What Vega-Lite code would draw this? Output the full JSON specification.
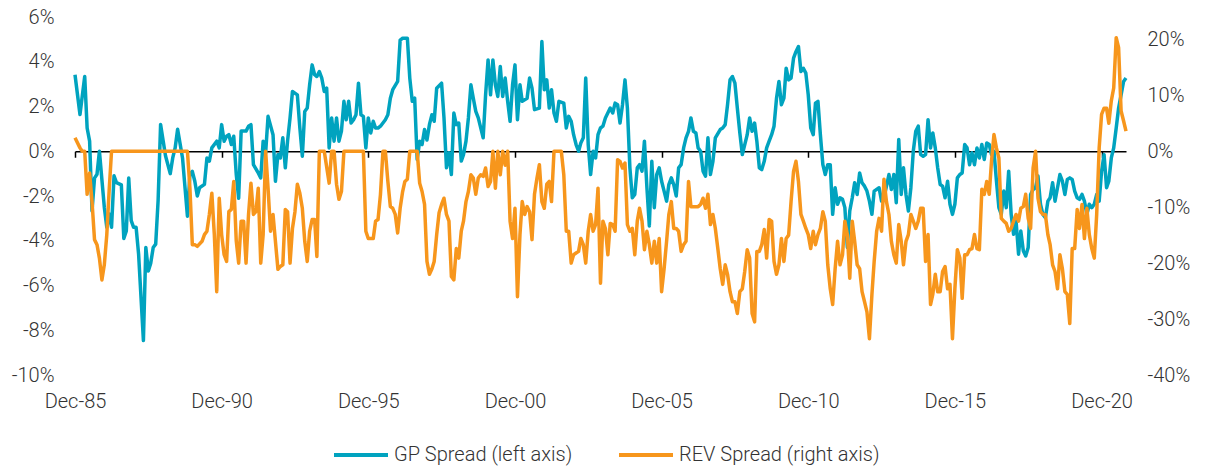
{
  "$schema": "https://vega.github.io/schema/vega-lite/v6.json",
  "width": 1051,
  "height": 358,
  "autosize": {"type": "none"},
  "padding": {"left": 75, "top": 17, "right": 86, "bottom": 95},
  "background": "white",
  "config": {
    "view": {"stroke": null},
    "font": "Roboto",
    "axis": {"labelFont": "Roboto", "labelFontWeight": 300, "labelFontSize": 20, "labelColor": "#333333", "grid": false, "title": null},
    "legend": {"labelFont": "Roboto", "labelFontWeight": 300, "labelFontSize": 20, "labelColor": "#333333", "labelLimit": 400}
  },
  "datasets": {
    "gp": [
      {"date": "1985-12-01", "value": 3.42}, {"date": "1986-02-01", "value": 1.64}, {"date": "1986-04-01", "value": 3.34}, {"date": "1986-05-01", "value": 1.04}, {"date": "1986-06-01", "value": 0.45}, {"date": "1986-07-01", "value": -2.67}, {"date": "1986-08-01", "value": -1.2}, {"date": "1986-09-01", "value": -1.03}, {"date": "1986-10-01", "value": 0}, {"date": "1986-12-01", "value": -2.5},
      {"date": "1987-01-01", "value": -3.4}, {"date": "1987-02-01", "value": -2.8}, {"date": "1987-03-01", "value": -3.4}, {"date": "1987-04-01", "value": -1.1}, {"date": "1987-05-01", "value": -1.4}, {"date": "1987-07-01", "value": -1.5}, {"date": "1987-08-01", "value": -3.9}, {"date": "1987-09-01", "value": -3.56}, {"date": "1987-10-01", "value": -1.2}, {"date": "1987-11-01", "value": -3.1}, {"date": "1987-12-01", "value": -3.4},
      {"date": "1988-01-01", "value": -3.4}, {"date": "1988-02-01", "value": -4.6}, {"date": "1988-04-01", "value": -8.46}, {"date": "1988-05-01", "value": -4.3}, {"date": "1988-06-01", "value": -5.35}, {"date": "1988-07-01", "value": -5.0}, {"date": "1988-08-01", "value": -4.3}, {"date": "1988-09-01", "value": -4.15}, {"date": "1988-10-01", "value": -2.2}, {"date": "1988-11-01", "value": 1.2},
      {"date": "1989-01-01", "value": -0.2}, {"date": "1989-03-01", "value": -1.0}, {"date": "1989-04-01", "value": -0.3}, {"date": "1989-05-01", "value": 0.15}, {"date": "1989-06-01", "value": 0.98}, {"date": "1989-08-01", "value": -0.3}, {"date": "1989-09-01", "value": -1.63}, {"date": "1989-10-01", "value": -2.9}, {"date": "1989-11-01", "value": -1.03}, {"date": "1989-12-01", "value": -0.9},
      {"date": "1990-01-01", "value": -1.34}, {"date": "1990-02-01", "value": -2.0}, {"date": "1990-03-01", "value": -1.63}, {"date": "1990-05-01", "value": -1.48}, {"date": "1990-06-01", "value": -0.3}, {"date": "1990-07-01", "value": -0.44}, {"date": "1990-08-01", "value": 0.15}, {"date": "1990-10-01", "value": 0.45}, {"date": "1990-11-01", "value": 0.15}, {"date": "1990-12-01", "value": 1.19},
      {"date": "1991-01-01", "value": 0.45}, {"date": "1991-02-01", "value": 0.67}, {"date": "1991-03-01", "value": 0.74}, {"date": "1991-04-01", "value": 0.3}, {"date": "1991-05-01", "value": 0.67}, {"date": "1991-06-01", "value": -1.03}, {"date": "1991-07-01", "value": -2.1}, {"date": "1991-08-01", "value": 0.9}, {"date": "1991-10-01", "value": 0.9}, {"date": "1991-11-01", "value": 1.12}, {"date": "1991-12-01", "value": 1.19},
      {"date": "1992-01-01", "value": -0.6}, {"date": "1992-03-01", "value": -0.97}, {"date": "1992-04-01", "value": -1.19}, {"date": "1992-05-01", "value": 0.45}, {"date": "1992-06-01", "value": -0.07}, {"date": "1992-07-01", "value": 1.56}, {"date": "1992-09-01", "value": 0.74}, {"date": "1992-10-01", "value": -1.34}, {"date": "1992-11-01", "value": -0.15}, {"date": "1992-12-01", "value": -0.3},
      {"date": "1993-01-01", "value": 0.6}, {"date": "1993-02-01", "value": -0.74}, {"date": "1993-03-01", "value": 0.45}, {"date": "1993-04-01", "value": 1.49}, {"date": "1993-05-01", "value": 2.67}, {"date": "1993-07-01", "value": 2.52}, {"date": "1993-08-01", "value": 1.04}, {"date": "1993-09-01", "value": -0.22}, {"date": "1993-10-01", "value": 1.78}, {"date": "1993-11-01", "value": 1.93}, {"date": "1993-12-01", "value": 2.97},
      {"date": "1994-01-01", "value": 3.86}, {"date": "1994-02-01", "value": 3.42}, {"date": "1994-03-01", "value": 3.34}, {"date": "1994-04-01", "value": 3.56}, {"date": "1994-05-01", "value": 3.27}, {"date": "1994-06-01", "value": 2.67}, {"date": "1994-07-01", "value": 2.82}, {"date": "1994-08-01", "value": 0.15}, {"date": "1994-09-01", "value": 1.49}, {"date": "1994-10-01", "value": 0.45}, {"date": "1994-11-01", "value": 1.49}, {"date": "1994-12-01", "value": 0.45},
      {"date": "1995-01-01", "value": 0.9}, {"date": "1995-02-01", "value": 2.23}, {"date": "1995-03-01", "value": 1.41}, {"date": "1995-04-01", "value": 2.23}, {"date": "1995-05-01", "value": 1.26}, {"date": "1995-06-01", "value": 1.41}, {"date": "1995-07-01", "value": 1.63}, {"date": "1995-08-01", "value": 3.04}, {"date": "1995-09-01", "value": 1.63}, {"date": "1995-10-01", "value": 1.56}, {"date": "1995-11-01", "value": 0.15}, {"date": "1995-12-01", "value": 1.49},
      {"date": "1996-01-01", "value": 0.82}, {"date": "1996-02-01", "value": 1.34}, {"date": "1996-03-01", "value": 1.04}, {"date": "1996-04-01", "value": 1.04}, {"date": "1996-05-01", "value": 1.12}, {"date": "1996-07-01", "value": 1.41}, {"date": "1996-08-01", "value": 1.63}, {"date": "1996-09-01", "value": 2.37}, {"date": "1996-10-01", "value": 2.75}, {"date": "1996-12-01", "value": 3.12},
      {"date": "1997-01-01", "value": 4.97}, {"date": "1997-02-01", "value": 5.05}, {"date": "1997-04-01", "value": 5.05}, {"date": "1997-05-01", "value": 3.27}, {"date": "1997-06-01", "value": 2.23}, {"date": "1997-07-01", "value": 2.37}, {"date": "1997-08-01", "value": -0.37}, {"date": "1997-09-01", "value": 0.45}, {"date": "1997-10-01", "value": 0.3}, {"date": "1997-11-01", "value": 0.97}, {"date": "1997-12-01", "value": 0.5},
      {"date": "1998-01-01", "value": 1.2}, {"date": "1998-02-01", "value": 1.63}, {"date": "1998-03-01", "value": 1.34}, {"date": "1998-04-01", "value": 2.82}, {"date": "1998-06-01", "value": 3.04}, {"date": "1998-07-01", "value": 1.49}, {"date": "1998-08-01", "value": -0.74}, {"date": "1998-09-01", "value": -0.07}, {"date": "1998-10-01", "value": -1.04}, {"date": "1998-11-01", "value": 1.71}, {"date": "1998-12-01", "value": 1.19},
      {"date": "1999-01-01", "value": 1.26}, {"date": "1999-02-01", "value": -0.44}, {"date": "1999-03-01", "value": -0.15}, {"date": "1999-04-01", "value": 0.45}, {"date": "1999-05-01", "value": 1.49}, {"date": "1999-06-01", "value": 2.97}, {"date": "1999-07-01", "value": 2.37}, {"date": "1999-08-01", "value": 1.78}, {"date": "1999-09-01", "value": 1.49}, {"date": "1999-11-01", "value": 0.6}, {"date": "1999-12-01", "value": 2.52},
      {"date": "2000-01-01", "value": 4.08}, {"date": "2000-02-01", "value": 2.52}, {"date": "2000-03-01", "value": 4.08}, {"date": "2000-04-01", "value": 2.97}, {"date": "2000-05-01", "value": 2.45}, {"date": "2000-06-01", "value": 3.79}, {"date": "2000-07-01", "value": 2.45}, {"date": "2000-08-01", "value": 3.27}, {"date": "2000-09-01", "value": 2.23}, {"date": "2000-10-01", "value": 1.34}, {"date": "2000-11-01", "value": 2.97}, {"date": "2000-12-01", "value": 3.86},
      {"date": "2001-01-01", "value": 1.41}, {"date": "2001-02-01", "value": 2.97}, {"date": "2001-03-01", "value": 2.23}, {"date": "2001-05-01", "value": 2.37}, {"date": "2001-06-01", "value": 3.27}, {"date": "2001-07-01", "value": 2.82}, {"date": "2001-08-01", "value": 1.86}, {"date": "2001-10-01", "value": 1.93}, {"date": "2001-11-01", "value": 4.9}, {"date": "2001-12-01", "value": 2.75},
      {"date": "2002-01-01", "value": 3.19}, {"date": "2002-02-01", "value": 1.93}, {"date": "2002-03-01", "value": 2.75}, {"date": "2002-04-01", "value": 1.71}, {"date": "2002-05-01", "value": 1.34}, {"date": "2002-06-01", "value": 2.23}, {"date": "2002-08-01", "value": 2.15}, {"date": "2002-09-01", "value": 1.04}, {"date": "2002-10-01", "value": 1.56}, {"date": "2002-11-01", "value": 1.34}, {"date": "2002-12-01", "value": 0.74},
      {"date": "2003-01-01", "value": 0.3}, {"date": "2003-02-01", "value": 0}, {"date": "2003-03-01", "value": 0.37}, {"date": "2003-04-01", "value": 0.6}, {"date": "2003-05-01", "value": 3.27}, {"date": "2003-06-01", "value": 0.3}, {"date": "2003-07-01", "value": -1.04}, {"date": "2003-08-01", "value": 0}, {"date": "2003-09-01", "value": -0.3}, {"date": "2003-10-01", "value": 0.74}, {"date": "2003-11-01", "value": 1.04}, {"date": "2003-12-01", "value": 1.12},
      {"date": "2004-01-01", "value": 1.49}, {"date": "2004-03-01", "value": 1.93}, {"date": "2004-04-01", "value": 1.71}, {"date": "2004-05-01", "value": 2.15}, {"date": "2004-06-01", "value": 2.08}, {"date": "2004-07-01", "value": 1.26}, {"date": "2004-08-01", "value": 2.08}, {"date": "2004-09-01", "value": 3.19}, {"date": "2004-10-01", "value": 1.93}, {"date": "2004-11-01", "value": -0.74}, {"date": "2004-12-01", "value": -2.08},
      {"date": "2005-01-01", "value": -1.93}, {"date": "2005-02-01", "value": -0.74}, {"date": "2005-03-01", "value": -0.6}, {"date": "2005-04-01", "value": -0.89}, {"date": "2005-05-01", "value": 0.45}, {"date": "2005-06-01", "value": -1.63}, {"date": "2005-07-01", "value": -3.34}, {"date": "2005-08-01", "value": -0.45}, {"date": "2005-09-01", "value": -2.52}, {"date": "2005-10-01", "value": -1.04}, {"date": "2005-11-01", "value": -0.74}, {"date": "2005-12-01", "value": -1.34},
      {"date": "2006-01-01", "value": -1.78}, {"date": "2006-02-01", "value": -2.23}, {"date": "2006-03-01", "value": -1.49}, {"date": "2006-04-01", "value": -1.19}, {"date": "2006-05-01", "value": -1.49}, {"date": "2006-06-01", "value": -2.0}, {"date": "2006-07-01", "value": -0.74}, {"date": "2006-08-01", "value": -0.6}, {"date": "2006-09-01", "value": 0.15}, {"date": "2006-10-01", "value": 0.6}, {"date": "2006-11-01", "value": 0.89}, {"date": "2006-12-01", "value": 1.49},
      {"date": "2007-01-01", "value": 0.89}, {"date": "2007-02-01", "value": 0.82}, {"date": "2007-03-01", "value": 0.15}, {"date": "2007-04-01", "value": 0}, {"date": "2007-05-01", "value": -0.89}, {"date": "2007-06-01", "value": -1.11}, {"date": "2007-07-01", "value": 0.6}, {"date": "2007-08-01", "value": -1.04}, {"date": "2007-09-01", "value": -0.45}, {"date": "2007-10-01", "value": 0.6}, {"date": "2007-12-01", "value": 0.97},
      {"date": "2008-01-01", "value": 1.04}, {"date": "2008-02-01", "value": 1.19}, {"date": "2008-03-01", "value": 2.08}, {"date": "2008-04-01", "value": 3.19}, {"date": "2008-05-01", "value": 3.34}, {"date": "2008-06-01", "value": 3.04}, {"date": "2008-07-01", "value": 1.93}, {"date": "2008-08-01", "value": 0.82}, {"date": "2008-09-01", "value": -0.15}, {"date": "2008-11-01", "value": 0.74}, {"date": "2008-12-01", "value": 1.49},
      {"date": "2009-01-01", "value": 0.89}, {"date": "2009-02-01", "value": 1.26}, {"date": "2009-03-01", "value": 0.45}, {"date": "2009-04-01", "value": -0.74}, {"date": "2009-05-01", "value": -0.82}, {"date": "2009-06-01", "value": -0.45}, {"date": "2009-07-01", "value": 0.15}, {"date": "2009-08-01", "value": 0.45}, {"date": "2009-09-01", "value": 0.74}, {"date": "2009-10-01", "value": 1.12}, {"date": "2009-11-01", "value": 2.37}, {"date": "2009-12-01", "value": 3.12},
      {"date": "2010-01-01", "value": 2.08}, {"date": "2010-02-01", "value": 2.37}, {"date": "2010-03-01", "value": 3.71}, {"date": "2010-04-01", "value": 3.19}, {"date": "2010-05-01", "value": 3.27}, {"date": "2010-06-01", "value": 4.16}, {"date": "2010-07-01", "value": 4.45}, {"date": "2010-08-01", "value": 4.68}, {"date": "2010-09-01", "value": 3.56}, {"date": "2010-10-01", "value": 3.71}, {"date": "2010-11-01", "value": 3.49}, {"date": "2010-12-01", "value": 2.52},
      {"date": "2011-01-01", "value": 1.04}, {"date": "2011-02-01", "value": 0.74}, {"date": "2011-03-01", "value": 2.15}, {"date": "2011-04-01", "value": 2.23}, {"date": "2011-05-01", "value": 0.74}, {"date": "2011-06-01", "value": -0.6}, {"date": "2011-07-01", "value": -1.04}, {"date": "2011-08-01", "value": -0.6}, {"date": "2011-09-01", "value": -0.6}, {"date": "2011-10-01", "value": -2.82}, {"date": "2011-11-01", "value": -1.63}, {"date": "2011-12-01", "value": -2.37},
      {"date": "2012-01-01", "value": -2.08}, {"date": "2012-02-01", "value": -2.15}, {"date": "2012-03-01", "value": -2.52}, {"date": "2012-04-01", "value": -4.3}, {"date": "2012-05-01", "value": -2.67}, {"date": "2012-06-01", "value": -2.08}, {"date": "2012-07-01", "value": -1.41}, {"date": "2012-08-01", "value": -1.93}, {"date": "2012-09-01", "value": -0.97}, {"date": "2012-10-01", "value": -1.41}, {"date": "2012-11-01", "value": -1.56}, {"date": "2012-12-01", "value": -1.78},
      {"date": "2013-01-01", "value": -2.23}, {"date": "2013-02-01", "value": -2.82}, {"date": "2013-03-01", "value": -1.78}, {"date": "2013-05-01", "value": -1.63}, {"date": "2013-06-01", "value": -2.23}, {"date": "2013-07-01", "value": -2.08}, {"date": "2013-09-01", "value": -1.04}, {"date": "2013-10-01", "value": -1.71}, {"date": "2013-11-01", "value": -1.04}, {"date": "2013-12-01", "value": -2.3},
      {"date": "2014-01-01", "value": 0.52}, {"date": "2014-02-01", "value": -1.93}, {"date": "2014-03-01", "value": -0.74}, {"date": "2014-04-01", "value": -1.93}, {"date": "2014-05-01", "value": -2.67}, {"date": "2014-06-01", "value": -1.63}, {"date": "2014-07-01", "value": 0}, {"date": "2014-08-01", "value": 0.89}, {"date": "2014-09-01", "value": 1.12}, {"date": "2014-10-01", "value": -0.15}, {"date": "2014-11-01", "value": -0.22}, {"date": "2014-12-01", "value": -0.15},
      {"date": "2015-01-01", "value": 1.41}, {"date": "2015-02-01", "value": 0.15}, {"date": "2015-03-01", "value": 0.82}, {"date": "2015-04-01", "value": 0.15}, {"date": "2015-05-01", "value": -0.74}, {"date": "2015-06-01", "value": -1.49}, {"date": "2015-07-01", "value": -1.56}, {"date": "2015-08-01", "value": -2.08}, {"date": "2015-09-01", "value": -1.34}, {"date": "2015-10-01", "value": -2.37}, {"date": "2015-11-01", "value": -2.82}, {"date": "2015-12-01", "value": -2.37},
      {"date": "2016-01-01", "value": -1.19}, {"date": "2016-02-01", "value": -1.04}, {"date": "2016-03-01", "value": -0.97}, {"date": "2016-04-01", "value": 0.3}, {"date": "2016-05-01", "value": 0.15}, {"date": "2016-06-01", "value": -0.6}, {"date": "2016-07-01", "value": -0.07}, {"date": "2016-08-01", "value": -0.6}, {"date": "2016-09-01", "value": 0.15}, {"date": "2016-10-01", "value": -0.3}, {"date": "2016-11-01", "value": 0.3}, {"date": "2016-12-01", "value": -0.37},
      {"date": "2017-01-01", "value": 0.37}, {"date": "2017-02-01", "value": 0.3}, {"date": "2017-03-01", "value": -0.15}, {"date": "2017-04-01", "value": 0}, {"date": "2017-05-01", "value": -1.3}, {"date": "2017-06-01", "value": -2.52}, {"date": "2017-07-01", "value": -2.82}, {"date": "2017-08-01", "value": -1.78}, {"date": "2017-09-01", "value": -2.52}, {"date": "2017-10-01", "value": -0.89}, {"date": "2017-11-01", "value": -2.82}, {"date": "2017-12-01", "value": -3.71},
      {"date": "2018-01-01", "value": -3.12}, {"date": "2018-02-01", "value": -4.6}, {"date": "2018-03-01", "value": -3.56}, {"date": "2018-04-01", "value": -4.45}, {"date": "2018-05-01", "value": -4.68}, {"date": "2018-06-01", "value": -4.3}, {"date": "2018-07-01", "value": -1.93}, {"date": "2018-08-01", "value": -1.71}, {"date": "2018-09-01", "value": -1.63}, {"date": "2018-10-01", "value": -1.11}, {"date": "2018-11-01", "value": -2.37}, {"date": "2018-12-01", "value": -2.82},
      {"date": "2019-01-01", "value": -2.97}, {"date": "2019-02-01", "value": -2.23}, {"date": "2019-03-01", "value": -2.08}, {"date": "2019-04-01", "value": -1.41}, {"date": "2019-05-01", "value": -2.23}, {"date": "2019-06-01", "value": -1.63}, {"date": "2019-07-01", "value": -1.04}, {"date": "2019-08-01", "value": -1.34}, {"date": "2019-09-01", "value": -1.93}, {"date": "2019-10-01", "value": -1.26}, {"date": "2019-11-01", "value": -1.19}, {"date": "2019-12-01", "value": -1.26},
      {"date": "2020-01-01", "value": -1.78}, {"date": "2020-02-01", "value": -2.08}, {"date": "2020-03-01", "value": -2.15}, {"date": "2020-04-01", "value": -1.93}, {"date": "2020-05-01", "value": -2.23}, {"date": "2020-06-01", "value": -2.82}, {"date": "2020-07-01", "value": -2.37}, {"date": "2020-08-01", "value": -2.52}, {"date": "2020-09-01", "value": -2.37}, {"date": "2020-10-01", "value": -1.93}, {"date": "2020-11-01", "value": -2.23}, {"date": "2020-12-01", "value": -0.89},
      {"date": "2021-01-01", "value": -0.15}, {"date": "2021-02-01", "value": -1.63}, {"date": "2021-03-01", "value": -1.34}, {"date": "2021-04-01", "value": -0.3}, {"date": "2021-05-01", "value": 0.15}, {"date": "2021-06-01", "value": 1.04}, {"date": "2021-07-01", "value": 1.93}, {"date": "2021-08-01", "value": 2.52}, {"date": "2021-09-01", "value": 3.12}, {"date": "2021-10-01", "value": 3.27}
    ],
    "rev": [
      {"date": "1985-12-01", "value": 2.4}, {"date": "1986-02-01", "value": 0.6}, {"date": "1986-03-01", "value": 0}, {"date": "1986-04-01", "value": 0}, {"date": "1986-05-01", "value": -7.7}, {"date": "1986-06-01", "value": -3.9}, {"date": "1986-07-01", "value": -9}, {"date": "1986-08-01", "value": -15.8}, {"date": "1986-09-01", "value": -16.7}, {"date": "1986-10-01", "value": -19.1}, {"date": "1986-11-01", "value": -23}, {"date": "1986-12-01", "value": -20.3},
      {"date": "1987-01-01", "value": -14.9}, {"date": "1987-02-01", "value": -6.6}, {"date": "1987-03-01", "value": 0}, {"date": "1989-10-01", "value": 0}, {"date": "1989-11-01", "value": -6.6}, {"date": "1989-12-01", "value": -16.7},
      {"date": "1990-01-01", "value": -16.7}, {"date": "1990-02-01", "value": -17}, {"date": "1990-04-01", "value": -16.1}, {"date": "1990-05-01", "value": -14.9}, {"date": "1990-06-01", "value": -14.3}, {"date": "1990-07-01", "value": -11.3}, {"date": "1990-08-01", "value": -7.5}, {"date": "1990-09-01", "value": -14.9}, {"date": "1990-10-01", "value": -25.1}, {"date": "1990-11-01", "value": -8.4}, {"date": "1990-12-01", "value": -14.9},
      {"date": "1991-01-01", "value": -18.5}, {"date": "1991-02-01", "value": -19.7}, {"date": "1991-03-01", "value": -10.8}, {"date": "1991-04-01", "value": -10.4}, {"date": "1991-05-01", "value": -5.4}, {"date": "1991-06-01", "value": -16}, {"date": "1991-07-01", "value": -20}, {"date": "1991-08-01", "value": -12.5}, {"date": "1991-09-01", "value": -12.5}, {"date": "1991-10-01", "value": -20}, {"date": "1991-11-01", "value": -11.3}, {"date": "1991-12-01", "value": -5.7},
      {"date": "1992-01-01", "value": -11.3}, {"date": "1992-02-01", "value": -10.8}, {"date": "1992-03-01", "value": -6.6}, {"date": "1992-04-01", "value": -20}, {"date": "1992-05-01", "value": -14.9}, {"date": "1992-06-01", "value": 0}, {"date": "1992-07-01", "value": -6.6}, {"date": "1992-08-01", "value": -14.3}, {"date": "1992-09-01", "value": -11.3}, {"date": "1992-11-01", "value": -21.1}, {"date": "1992-12-01", "value": -20.6},
      {"date": "1993-01-01", "value": -20.3}, {"date": "1993-02-01", "value": -10.4}, {"date": "1993-03-01", "value": -10.8}, {"date": "1993-04-01", "value": -20}, {"date": "1993-05-01", "value": -13.8}, {"date": "1993-06-01", "value": -10.8}, {"date": "1993-07-01", "value": -5.9}, {"date": "1993-08-01", "value": -7.5}, {"date": "1993-09-01", "value": -10.2}, {"date": "1993-10-01", "value": -16.1}, {"date": "1993-11-01", "value": -19.7}, {"date": "1993-12-01", "value": -14.3},
      {"date": "1994-01-01", "value": -12.2}, {"date": "1994-02-01", "value": -12.2}, {"date": "1994-03-01", "value": -18.8}, {"date": "1994-04-01", "value": 0}, {"date": "1994-06-01", "value": 0}, {"date": "1994-08-01", "value": -5.7}, {"date": "1994-09-01", "value": 0}, {"date": "1994-10-01", "value": 0}, {"date": "1994-11-01", "value": -5.9}, {"date": "1994-12-01", "value": -8.6},
      {"date": "1995-01-01", "value": -7.2}, {"date": "1995-02-01", "value": 0}, {"date": "1995-10-01", "value": 0}, {"date": "1995-11-01", "value": -14.3}, {"date": "1995-12-01", "value": -15.6},
      {"date": "1996-01-01", "value": -15.6}, {"date": "1996-02-01", "value": -15.6}, {"date": "1996-03-01", "value": -12.5}, {"date": "1996-04-01", "value": -12.2}, {"date": "1996-05-01", "value": -7.7}, {"date": "1996-06-01", "value": 0}, {"date": "1996-07-01", "value": 0}, {"date": "1996-08-01", "value": -5.4}, {"date": "1996-09-01", "value": -9.9}, {"date": "1996-10-01", "value": -10.2}, {"date": "1996-11-01", "value": -11.3}, {"date": "1996-12-01", "value": -14.6},
      {"date": "1997-01-01", "value": -10.2}, {"date": "1997-02-01", "value": -7.2}, {"date": "1997-03-01", "value": -5.4}, {"date": "1997-04-01", "value": -5}, {"date": "1997-05-01", "value": 0}, {"date": "1997-08-01", "value": 0}, {"date": "1997-09-01", "value": -5.7}, {"date": "1997-10-01", "value": -7.2}, {"date": "1997-11-01", "value": -9.5}, {"date": "1997-12-01", "value": -19.7},
      {"date": "1998-01-01", "value": -22}, {"date": "1998-02-01", "value": -21}, {"date": "1998-03-01", "value": -19.7}, {"date": "1998-04-01", "value": -14.9}, {"date": "1998-05-01", "value": -11}, {"date": "1998-06-01", "value": -9.5}, {"date": "1998-07-01", "value": -8.4}, {"date": "1998-08-01", "value": -11.3}, {"date": "1998-09-01", "value": -12.5}, {"date": "1998-10-01", "value": -22.4}, {"date": "1998-11-01", "value": -23}, {"date": "1998-12-01", "value": -17.4},
      {"date": "1999-01-01", "value": -19.1}, {"date": "1999-02-01", "value": -14.3}, {"date": "1999-03-01", "value": -12.5}, {"date": "1999-04-01", "value": -9}, {"date": "1999-05-01", "value": -7.2}, {"date": "1999-06-01", "value": -4.2}, {"date": "1999-07-01", "value": -4.8}, {"date": "1999-08-01", "value": -7.7}, {"date": "1999-09-01", "value": -4.8}, {"date": "1999-10-01", "value": -4.2}, {"date": "1999-11-01", "value": -4.5}, {"date": "1999-12-01", "value": -3},
      {"date": "2000-01-01", "value": -6.3}, {"date": "2000-02-01", "value": -5.4}, {"date": "2000-03-01", "value": 0}, {"date": "2000-04-01", "value": -6.6}, {"date": "2000-05-01", "value": 0}, {"date": "2000-06-01", "value": -4.2}, {"date": "2000-07-01", "value": 0}, {"date": "2000-08-01", "value": -2.5}, {"date": "2000-09-01", "value": 0}, {"date": "2000-10-01", "value": -12.5}, {"date": "2000-11-01", "value": -15.6}, {"date": "2000-12-01", "value": -10.2},
      {"date": "2001-01-01", "value": -26}, {"date": "2001-02-01", "value": -14.9}, {"date": "2001-03-01", "value": -9}, {"date": "2001-04-01", "value": -11.3}, {"date": "2001-05-01", "value": -9.9}, {"date": "2001-06-01", "value": -10.8}, {"date": "2001-07-01", "value": -15.8}, {"date": "2001-08-01", "value": -7.7}, {"date": "2001-09-01", "value": -4.8}, {"date": "2001-10-01", "value": -2.4}, {"date": "2001-11-01", "value": -9}, {"date": "2001-12-01", "value": -10.2},
      {"date": "2002-01-01", "value": -5.9}, {"date": "2002-02-01", "value": -5.4}, {"date": "2002-03-01", "value": -9}, {"date": "2002-04-01", "value": 0}, {"date": "2002-07-01", "value": 0}, {"date": "2002-08-01", "value": -4.2}, {"date": "2002-09-01", "value": -14.3}, {"date": "2002-10-01", "value": -14.3}, {"date": "2002-11-01", "value": -20}, {"date": "2002-12-01", "value": -18.5},
      {"date": "2003-01-01", "value": -18.2}, {"date": "2003-02-01", "value": -17.9}, {"date": "2003-03-01", "value": -15.6}, {"date": "2003-04-01", "value": -16.7}, {"date": "2003-05-01", "value": -20}, {"date": "2003-06-01", "value": -14.3}, {"date": "2003-07-01", "value": -11.3}, {"date": "2003-08-01", "value": -14.3}, {"date": "2003-09-01", "value": -13.1}, {"date": "2003-10-01", "value": -6.6}, {"date": "2003-11-01", "value": -23.6}, {"date": "2003-12-01", "value": -12.5},
      {"date": "2004-01-01", "value": -13.8}, {"date": "2004-02-01", "value": -18.5}, {"date": "2004-03-01", "value": -12.9}, {"date": "2004-04-01", "value": -13.1}, {"date": "2004-05-01", "value": -14.3}, {"date": "2004-06-01", "value": -1.5}, {"date": "2004-07-01", "value": -1.8}, {"date": "2004-08-01", "value": -3}, {"date": "2004-09-01", "value": -2.1}, {"date": "2004-10-01", "value": -13.1}, {"date": "2004-11-01", "value": -14.3}, {"date": "2004-12-01", "value": -13.8},
      {"date": "2005-01-01", "value": -18.5}, {"date": "2005-02-01", "value": -12.5}, {"date": "2005-03-01", "value": -10.2}, {"date": "2005-04-01", "value": -12.5}, {"date": "2005-05-01", "value": -17.6}, {"date": "2005-06-01", "value": -14.3}, {"date": "2005-07-01", "value": -16.7}, {"date": "2005-08-01", "value": -20}, {"date": "2005-09-01", "value": -16.1}, {"date": "2005-10-01", "value": -20}, {"date": "2005-11-01", "value": -15.6}, {"date": "2005-12-01", "value": -25.1},
      {"date": "2006-01-01", "value": -21}, {"date": "2006-02-01", "value": -16.1}, {"date": "2006-03-01", "value": -11.3}, {"date": "2006-04-01", "value": -9}, {"date": "2006-05-01", "value": -13.8}, {"date": "2006-06-01", "value": -13.8}, {"date": "2006-07-01", "value": -14.3}, {"date": "2006-08-01", "value": -17.9}, {"date": "2006-09-01", "value": -16.7}, {"date": "2006-10-01", "value": -16.1}, {"date": "2006-11-01", "value": -5.4}, {"date": "2006-12-01", "value": -9.9},
      {"date": "2007-01-01", "value": -9.9}, {"date": "2007-03-01", "value": -9.9}, {"date": "2007-04-01", "value": -9.5}, {"date": "2007-05-01", "value": -8.4}, {"date": "2007-06-01", "value": -10.2}, {"date": "2007-07-01", "value": -7.7}, {"date": "2007-08-01", "value": -13.1}, {"date": "2007-09-01", "value": -11.3}, {"date": "2007-10-01", "value": -13.8}, {"date": "2007-11-01", "value": -17.4}, {"date": "2007-12-01", "value": -21},
      {"date": "2008-01-01", "value": -23.8}, {"date": "2008-02-01", "value": -20.3}, {"date": "2008-03-01", "value": -22}, {"date": "2008-04-01", "value": -25.1}, {"date": "2008-05-01", "value": -26.9}, {"date": "2008-06-01", "value": -26.9}, {"date": "2008-07-01", "value": -29}, {"date": "2008-08-01", "value": -25.1}, {"date": "2008-09-01", "value": -24.6}, {"date": "2008-10-01", "value": -21.5}, {"date": "2008-11-01", "value": -17.6}, {"date": "2008-12-01", "value": -19.1},
      {"date": "2009-01-01", "value": -29}, {"date": "2009-02-01", "value": -30.5}, {"date": "2009-03-01", "value": -17.9}, {"date": "2009-04-01", "value": -17.9}, {"date": "2009-05-01", "value": -16.7}, {"date": "2009-06-01", "value": -14}, {"date": "2009-07-01", "value": -19.1}, {"date": "2009-08-01", "value": -12.2}, {"date": "2009-09-01", "value": -12.5}, {"date": "2009-10-01", "value": -19.7}, {"date": "2009-11-01", "value": -22}, {"date": "2009-12-01", "value": -20.3},
      {"date": "2010-01-01", "value": -15.6}, {"date": "2010-02-01", "value": -19.7}, {"date": "2010-03-01", "value": -15.6}, {"date": "2010-04-01", "value": -15}, {"date": "2010-05-01", "value": -9}, {"date": "2010-06-01", "value": -3.6}, {"date": "2010-07-01", "value": -1.8}, {"date": "2010-08-01", "value": -5.4}, {"date": "2010-09-01", "value": -11.3}, {"date": "2010-10-01", "value": -12.5}, {"date": "2010-11-01", "value": -13.8}, {"date": "2010-12-01", "value": -14.9},
      {"date": "2011-01-01", "value": -17.4}, {"date": "2011-02-01", "value": -14.3}, {"date": "2011-03-01", "value": -16.7}, {"date": "2011-04-01", "value": -14.9}, {"date": "2011-05-01", "value": -13.8}, {"date": "2011-06-01", "value": -10.8}, {"date": "2011-07-01", "value": -12.5}, {"date": "2011-08-01", "value": -20.3}, {"date": "2011-09-01", "value": -24.6}, {"date": "2011-10-01", "value": -27.4}, {"date": "2011-11-01", "value": -21}, {"date": "2011-12-01", "value": -16.1},
      {"date": "2012-01-01", "value": -20.3}, {"date": "2012-02-01", "value": -18.5}, {"date": "2012-03-01", "value": -12.5}, {"date": "2012-04-01", "value": -14.9}, {"date": "2012-05-01", "value": -22.7}, {"date": "2012-06-01", "value": -12.5}, {"date": "2012-07-01", "value": -16.1}, {"date": "2012-08-01", "value": -20.3}, {"date": "2012-09-01", "value": -21}, {"date": "2012-10-01", "value": -25.1}, {"date": "2012-11-01", "value": -26.9}, {"date": "2012-12-01", "value": -28.7},
      {"date": "2013-01-01", "value": -33.5}, {"date": "2013-02-01", "value": -25.6}, {"date": "2013-03-01", "value": -19.7}, {"date": "2013-04-01", "value": -14.3}, {"date": "2013-05-01", "value": -12}, {"date": "2013-06-01", "value": -14.3}, {"date": "2013-07-01", "value": -5}, {"date": "2013-08-01", "value": -9}, {"date": "2013-09-01", "value": -11.3}, {"date": "2013-10-01", "value": -16.1}, {"date": "2013-11-01", "value": -18.5}, {"date": "2013-12-01", "value": -20},
      {"date": "2014-01-01", "value": -13.1}, {"date": "2014-02-01", "value": -16.1}, {"date": "2014-03-01", "value": -20.3}, {"date": "2014-04-01", "value": -16.1}, {"date": "2014-05-01", "value": -14.9}, {"date": "2014-06-01", "value": -11.3}, {"date": "2014-07-01", "value": -12.5}, {"date": "2014-08-01", "value": -13.8}, {"date": "2014-09-01", "value": -12.5}, {"date": "2014-10-01", "value": -10.2}, {"date": "2014-11-01", "value": -10.2}, {"date": "2014-12-01", "value": -19.7},
      {"date": "2015-01-01", "value": -14.9}, {"date": "2015-02-01", "value": -27.4}, {"date": "2015-03-01", "value": -25.6}, {"date": "2015-04-01", "value": -22}, {"date": "2015-05-01", "value": -25.1}, {"date": "2015-06-01", "value": -25.1}, {"date": "2015-07-01", "value": -21.5}, {"date": "2015-08-01", "value": -20.6}, {"date": "2015-09-01", "value": -24.6}, {"date": "2015-10-01", "value": -23.8}, {"date": "2015-11-01", "value": -33.5}, {"date": "2015-12-01", "value": -24.6},
      {"date": "2016-01-01", "value": -17.6}, {"date": "2016-02-01", "value": -19.1}, {"date": "2016-03-01", "value": -26.3}, {"date": "2016-04-01", "value": -18.5}, {"date": "2016-05-01", "value": -18.5}, {"date": "2016-06-01", "value": -17.6}, {"date": "2016-07-01", "value": -17.4}, {"date": "2016-08-01", "value": -14.9}, {"date": "2016-09-01", "value": -17.4}, {"date": "2016-10-01", "value": -17.6}, {"date": "2016-11-01", "value": -6.8}, {"date": "2016-12-01", "value": -7.7},
      {"date": "2017-01-01", "value": -5.4}, {"date": "2017-02-01", "value": -7.7}, {"date": "2017-03-01", "value": -1.8}, {"date": "2017-04-01", "value": 3}, {"date": "2017-05-01", "value": 0.6}, {"date": "2017-06-01", "value": -1.2}, {"date": "2017-07-01", "value": -12}, {"date": "2017-08-01", "value": -12.5}, {"date": "2017-09-01", "value": -12.9}, {"date": "2017-10-01", "value": -14.3}, {"date": "2017-11-01", "value": -13.8}, {"date": "2017-12-01", "value": -12.5},
      {"date": "2018-01-01", "value": -11.3}, {"date": "2018-02-01", "value": -12.5}, {"date": "2018-03-01", "value": -10.2}, {"date": "2018-04-01", "value": -9.9}, {"date": "2018-05-01", "value": -7.7}, {"date": "2018-06-01", "value": -12}, {"date": "2018-07-01", "value": -13.8}, {"date": "2018-08-01", "value": -3}, {"date": "2018-09-01", "value": 0}, {"date": "2018-10-01", "value": -8.4}, {"date": "2018-11-01", "value": -10.8}, {"date": "2018-12-01", "value": -11.3},
      {"date": "2019-01-01", "value": -11.3}, {"date": "2019-02-01", "value": -14.9}, {"date": "2019-03-01", "value": -16.7}, {"date": "2019-04-01", "value": -20.3}, {"date": "2019-05-01", "value": -21.5}, {"date": "2019-06-01", "value": -24.6}, {"date": "2019-07-01", "value": -18.5}, {"date": "2019-08-01", "value": -21}, {"date": "2019-09-01", "value": -25.1}, {"date": "2019-10-01", "value": -25.6}, {"date": "2019-11-01", "value": -30.8}, {"date": "2019-12-01", "value": -17.4},
      {"date": "2020-01-01", "value": -17.4}, {"date": "2020-02-01", "value": -10.4}, {"date": "2020-03-01", "value": -13.8}, {"date": "2020-04-01", "value": -9.5}, {"date": "2020-05-01", "value": -15.6}, {"date": "2020-06-01", "value": -10.2}, {"date": "2020-07-01", "value": -14.9}, {"date": "2020-08-01", "value": -17.4}, {"date": "2020-09-01", "value": -19.1}, {"date": "2020-10-01", "value": -11.3}, {"date": "2020-11-01", "value": 0.6}, {"date": "2020-12-01", "value": 6.6},
      {"date": "2021-01-01", "value": 7.7}, {"date": "2021-02-01", "value": 7.7}, {"date": "2021-03-01", "value": 5}, {"date": "2021-04-01", "value": 9}, {"date": "2021-05-01", "value": 11.3}, {"date": "2021-06-01", "value": 20.3}, {"date": "2021-07-01", "value": 18.5}, {"date": "2021-08-01", "value": 7.2}, {"date": "2021-09-01", "value": 5.4}, {"date": "2021-10-01", "value": 3.6}
    ]
  },
  "layer": [
    {
      "data": {"name": "gp"},
      "mark": {"type": "line", "strokeWidth": 3.5, "strokeJoin": "round"},
      "encoding": {
        "x": {
          "field": "date", "type": "temporal",
          "scale": {"type": "utc", "domain": [{"year": 1985, "month": 12, "date": 1, "utc": true}, {"year": 2021, "month": 10, "date": 1, "utc": true}]},
          "axis": {
            "orient": "bottom", "offset": -223.75, "title": null, "labels": false,
            "domain": true, "domainColor": "#000000", "domainWidth": 1.5,
            "ticks": true, "tickColor": "#000000", "tickWidth": 1.5, "tickSize": 6,
            "values": [
              {"year": 1985, "month": 12, "date": 1, "utc": true}, {"year": 1990, "month": 12, "date": 1, "utc": true},
              {"year": 1995, "month": 12, "date": 1, "utc": true}, {"year": 2000, "month": 12, "date": 1, "utc": true},
              {"year": 2005, "month": 12, "date": 1, "utc": true}, {"year": 2010, "month": 12, "date": 1, "utc": true},
              {"year": 2015, "month": 12, "date": 1, "utc": true}, {"year": 2020, "month": 12, "date": 1, "utc": true}
            ]
          }
        },
        "y": {
          "field": "value", "type": "quantitative",
          "scale": {"domain": [-10, 6], "nice": false, "zero": false},
          "axis": {"orient": "left", "values": [-10, -8, -6, -4, -2, 0, 2, 4, 6], "labelExpr": "datum.value + '%'", "domain": false, "ticks": false, "labelPadding": 21, "title": null}
        },
        "color": {
          "datum": "GP Spread (left axis)", "type": "nominal",
          "scale": {"domain": ["GP Spread (left axis)", "REV Spread (right axis)"], "range": ["#00A3BF", "#F7961C"]},
          "legend": {
            "title": null, "orient": "none", "legendX": 257, "legendY": 409, "direction": "horizontal",
            "symbolType": "stroke", "symbolSize": 2916, "symbolStrokeWidth": 4,
            "labelOffset": 4, "columnPadding": 38, "labelLimit": 400
          }
        }
      }
    },
    {
      "data": {"name": "rev"},
      "mark": {"type": "line", "strokeWidth": 3.5, "strokeJoin": "round"},
      "encoding": {
        "x": {
          "field": "date", "type": "temporal",
          "axis": {
            "orient": "bottom", "title": null, "domain": false, "ticks": false, "labelPadding": 16,
            "labelFlush": false, "labelBound": false,
            "labelExpr": "utcFormat(datum.value, '%b-%y')",
            "values": [
              {"year": 1985, "month": 12, "date": 1, "utc": true}, {"year": 1990, "month": 12, "date": 1, "utc": true},
              {"year": 1995, "month": 12, "date": 1, "utc": true}, {"year": 2000, "month": 12, "date": 1, "utc": true},
              {"year": 2005, "month": 12, "date": 1, "utc": true}, {"year": 2010, "month": 12, "date": 1, "utc": true},
              {"year": 2015, "month": 12, "date": 1, "utc": true}, {"year": 2020, "month": 12, "date": 1, "utc": true}
            ]
          }
        },
        "y": {
          "field": "value", "type": "quantitative",
          "scale": {"domain": [-40, 24], "nice": false, "zero": false},
          "axis": {"orient": "right", "values": [-40, -30, -20, -10, 0, 10, 20], "labelExpr": "datum.value + '%'", "domain": false, "ticks": false, "labelPadding": 21, "title": null}
        },
        "color": {"datum": "REV Spread (right axis)", "type": "nominal"}
      }
    }
  ],
  "resolve": {"scale": {"y": "independent"}, "axis": {"x": "independent", "y": "independent"}}
}
